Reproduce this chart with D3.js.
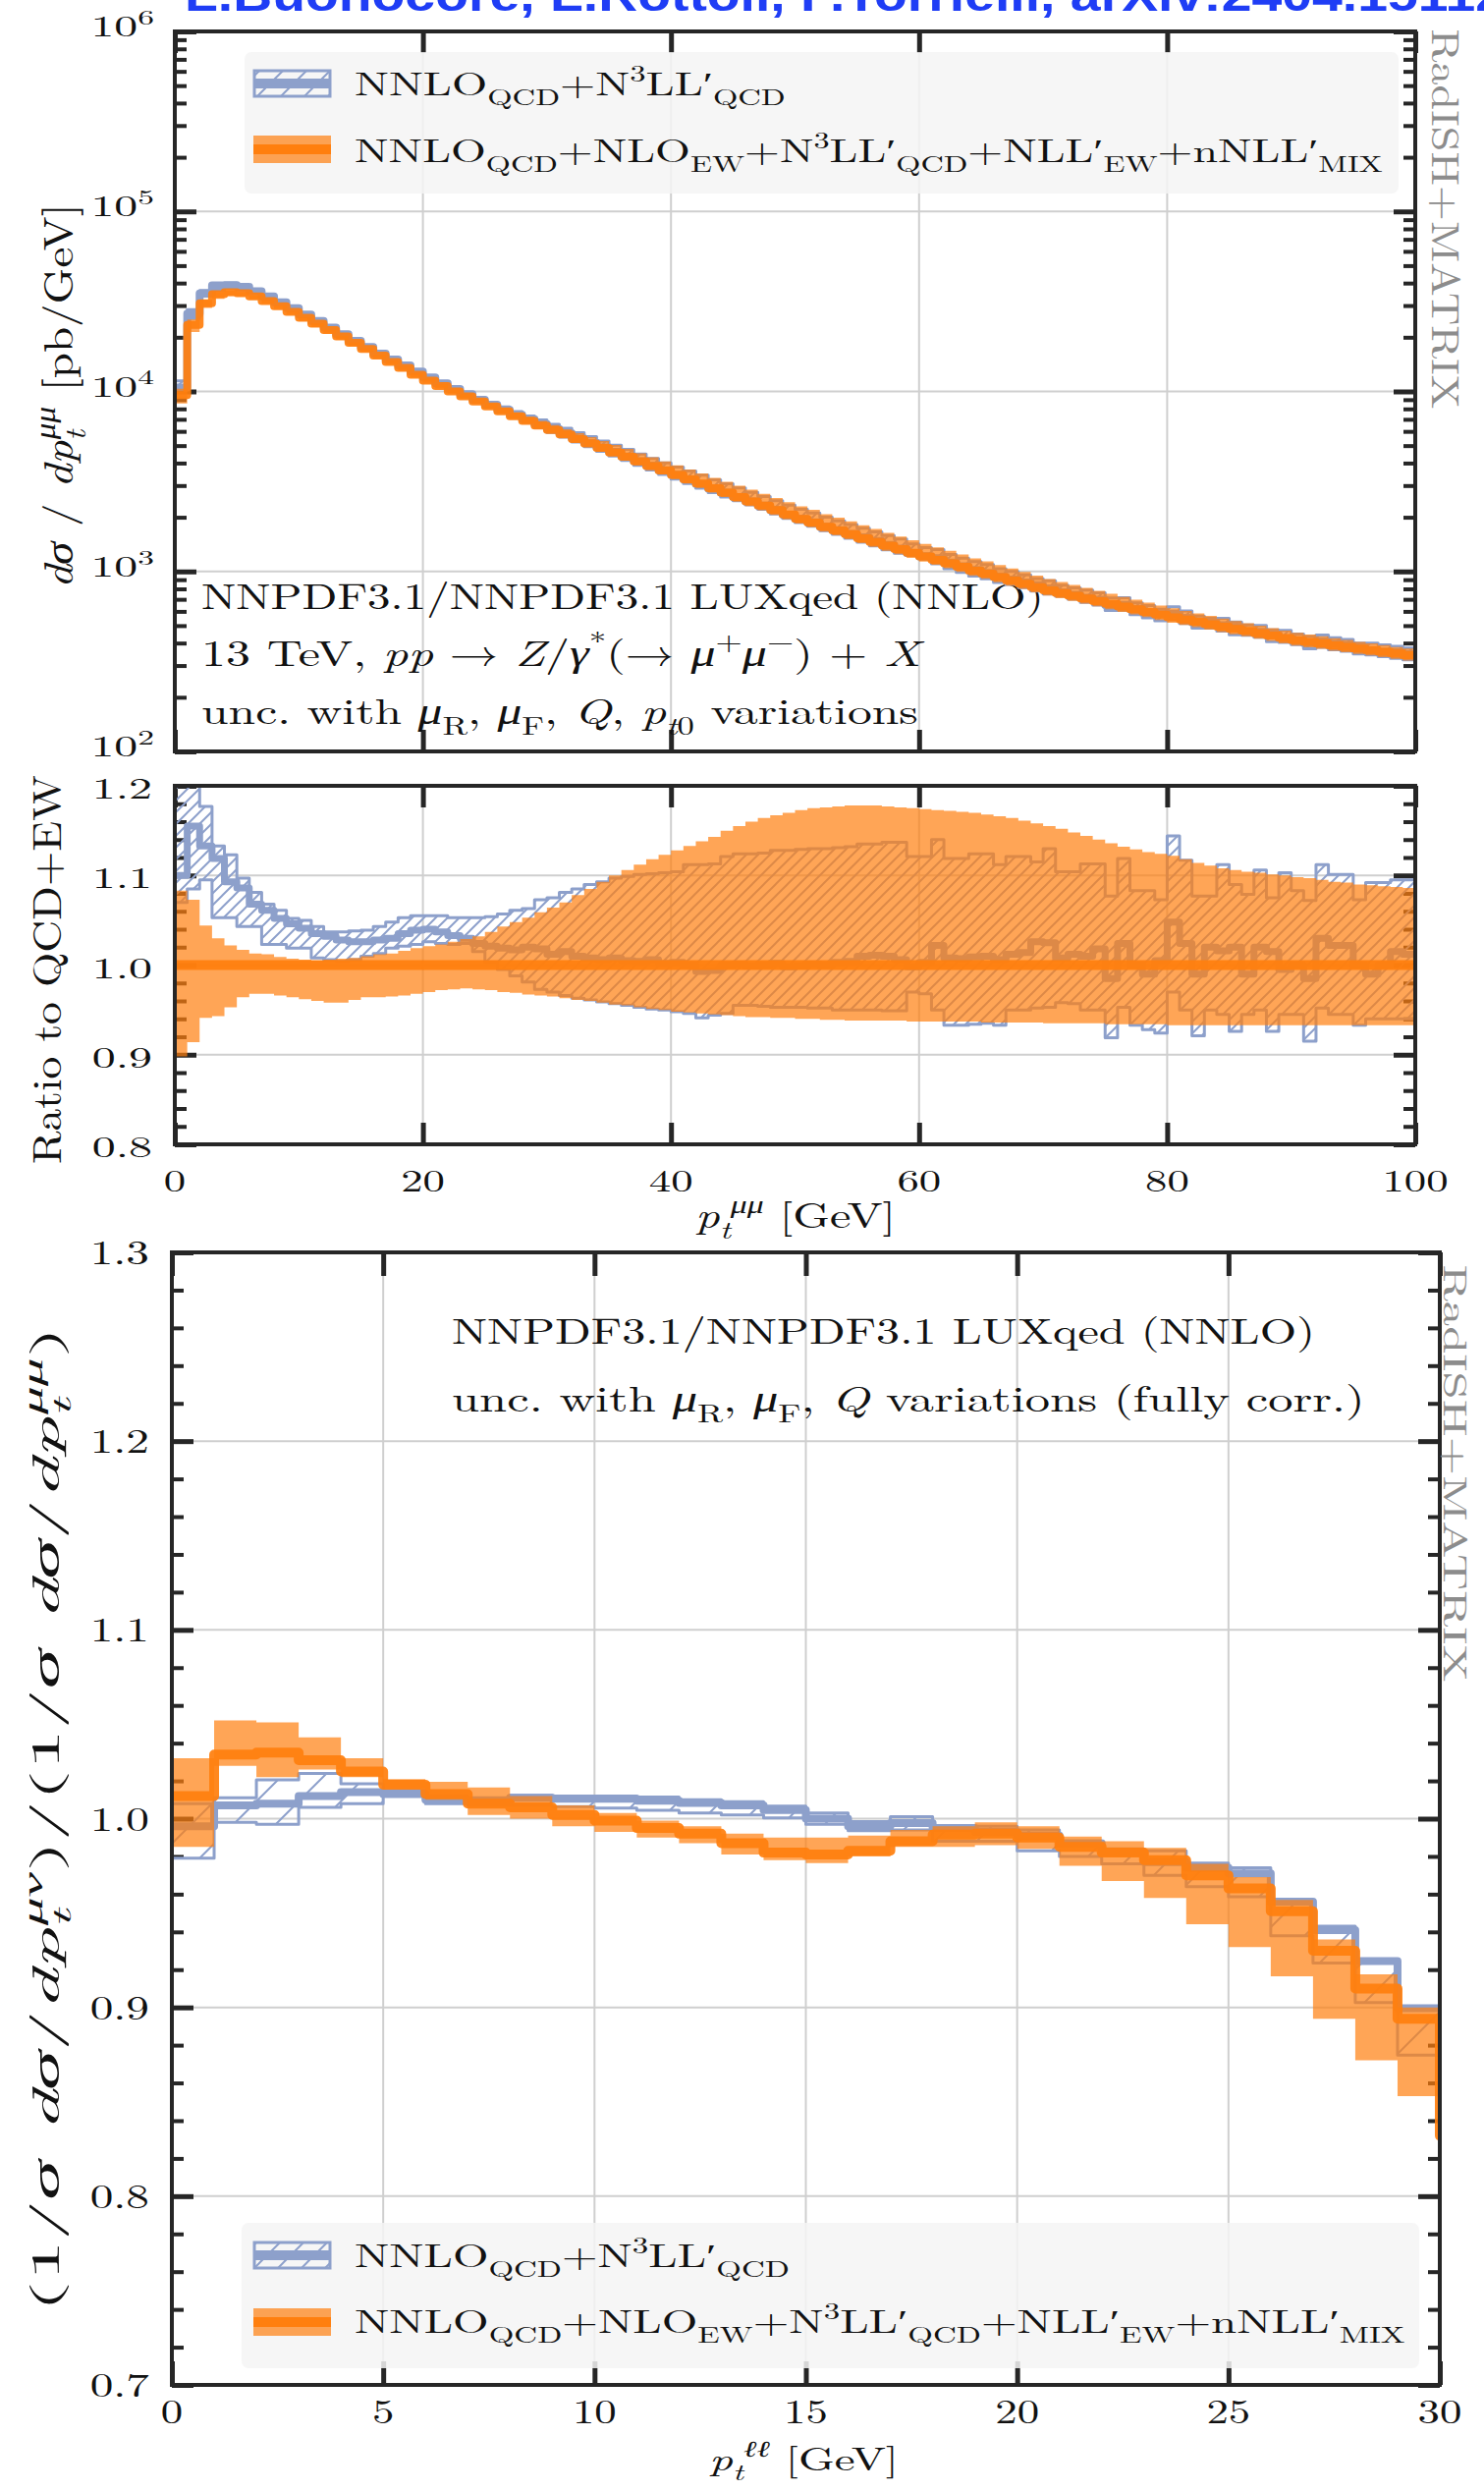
<!DOCTYPE html>
<html>
<head>
<meta charset="utf-8">
<script src="https://cdn.jsdelivr.net/npm/d3@7"></script>
<style>
  body { margin: 0; background: #fff; }
  svg { display: block; }
  text { font-family: "Latin Modern Roman", "CMU Serif", "Liberation Serif", serif; }
</style>
</head>
<body>
<svg id="chart" width="1511" height="2536"></svg>
<script>
// ---- data ----
// upper plot: d sigma / d pt(mumu), 1 GeV bins from 0 to 100, QCD+EW central [pb/GeV]
var dsigEW = [9550,23400,30900,34700,35600,35100,33700,31800,29700,27700,
  25700,23800,21900,20200,18600,17200,15800,14600,13500,12400,
  11500,10700,10000,9380,8790,8260,7760,7290,6870,6470,
  6110,5770,5440,5140,4850,4580,4330,4080,3850,3640,
  3440,3250,3080,2900,2740,2590,2450,2320,2190,2070,
  1960,1870,1770,1690,1610,1530,1460,1390,1330,1270,
  1210,1160,1110,1060,1010,973,931,891,855,818,
  785,759,733,708,684,661,638,617,596,575,
  556,540,525,509,494,480,467,453,440,427,
  415,406,398,389,381,373,366,358,350,343]
// QCD+EW band, relative to its central value
var ewUp = [1.083,1.073,1.044,1.030,1.022,1.017,1.013,1.012,1.009,1.007,
  1.006,1.005,1.006,1.007,1.008,1.010,1.012,1.013,1.016,1.019,
  1.021,1.023,1.026,1.029,1.032,1.037,1.043,1.048,1.053,1.059,
  1.064,1.070,1.078,1.085,1.093,1.100,1.106,1.112,1.118,1.123,
  1.128,1.133,1.138,1.143,1.150,1.155,1.160,1.164,1.167,1.170,
  1.173,1.175,1.176,1.177,1.178,1.178,1.178,1.177,1.176,1.175,
  1.174,1.173,1.172,1.171,1.170,1.168,1.166,1.164,1.161,1.158,
  1.155,1.152,1.148,1.144,1.140,1.136,1.132,1.129,1.126,1.124,
  1.122,1.118,1.114,1.111,1.108,1.106,1.104,1.103,1.101,1.100,
  1.098,1.097,1.095,1.093,1.092,1.090,1.089,1.088,1.087,1.086]
var ewDn = [0.898,0.914,0.941,0.943,0.953,0.964,0.968,0.968,0.966,0.964,
  0.962,0.960,0.958,0.958,0.961,0.964,0.964,0.965,0.966,0.968,
  0.970,0.972,0.973,0.974,0.973,0.972,0.970,0.969,0.967,0.966,
  0.965,0.963,0.961,0.960,0.958,0.956,0.955,0.953,0.951,0.950,
  0.948,0.947,0.946,0.945,0.944,0.943,0.942,0.942,0.941,0.941,
  0.940,0.940,0.939,0.939,0.938,0.938,0.938,0.938,0.938,0.937,
  0.937,0.937,0.937,0.937,0.937,0.936,0.936,0.936,0.936,0.936,
  0.935,0.935,0.935,0.935,0.935,0.934,0.934,0.934,0.934,0.934,
  0.933,0.933,0.933,0.933,0.933,0.933,0.933,0.933,0.933,0.933,
  0.933,0.933,0.933,0.933,0.933,0.933,0.933,0.933,0.933,0.933]
// QCD-only prediction, ratio to QCD+EW central
var qcdR = [1.100,1.155,1.133,1.119,1.093,1.086,1.068,1.061,1.052,1.046,
  1.041,1.035,1.032,1.028,1.026,1.026,1.028,1.030,1.035,1.039,
  1.040,1.037,1.033,1.030,1.024,1.021,1.019,1.017,1.020,1.018,
  1.012,1.015,1.010,1.008,1.006,1.008,1.005,1.004,1.006,1.002,
  1.003,1.000,0.993,0.994,1.000,1.001,0.999,1.000,1.002,0.998,
  0.999,1.001,1.000,1.003,1.004,1.010,1.011,1.010,1.006,0.998,
  1.003,1.022,1.008,1.007,1.009,1.010,1.006,1.012,1.014,1.026,
  1.025,1.008,1.012,1.010,1.018,0.985,1.024,1.000,0.990,1.005,
  1.048,1.024,0.990,1.020,1.016,1.020,0.990,1.020,1.015,0.995,
  1.000,0.985,1.030,1.022,1.022,1.000,0.990,1.000,1.015,1.012]
var qcdUp = [1.200,1.215,1.177,1.133,1.123,1.097,1.081,1.068,1.061,1.052,
  1.050,1.043,1.037,1.037,1.038,1.039,1.043,1.048,1.053,1.055,
  1.055,1.055,1.053,1.053,1.053,1.054,1.057,1.061,1.063,1.073,
  1.075,1.081,1.085,1.090,1.093,1.097,1.099,1.101,1.102,1.103,
  1.104,1.112,1.112,1.113,1.121,1.124,1.124,1.125,1.128,1.128,
  1.129,1.130,1.130,1.131,1.132,1.135,1.135,1.137,1.137,1.121,
  1.121,1.140,1.119,1.119,1.124,1.124,1.112,1.121,1.121,1.115,
  1.130,1.104,1.104,1.113,1.113,1.077,1.119,1.083,1.083,1.073,
  1.144,1.117,1.077,1.077,1.112,1.090,1.079,1.106,1.075,1.103,
  1.083,1.072,1.112,1.101,1.101,1.073,1.092,1.092,1.095,1.095]
var qcdDn = [1.070,1.085,1.095,1.053,1.053,1.043,1.043,1.023,1.023,1.019,
  1.019,1.008,1.006,1.004,1.006,1.010,1.013,1.019,1.021,1.023,
  1.026,1.024,1.023,1.024,1.015,1.003,0.995,0.988,0.981,0.973,
  0.970,0.966,0.963,0.961,0.959,0.957,0.955,0.953,0.951,0.950,
  0.948,0.946,0.941,0.944,0.946,0.955,0.955,0.954,0.953,0.953,
  0.953,0.952,0.952,0.950,0.950,0.950,0.950,0.949,0.949,0.970,
  0.968,0.950,0.933,0.933,0.934,0.935,0.933,0.950,0.950,0.952,
  0.953,0.958,0.957,0.950,0.950,0.919,0.953,0.933,0.928,0.924,
  0.970,0.950,0.921,0.950,0.945,0.926,0.945,0.950,0.926,0.945,
  0.945,0.915,0.952,0.945,0.945,0.933,0.940,0.940,0.940,0.940]

// lower plot: normalised ratio, 1 GeV bins from 0 to 30 (last orange bin lies past the frame)
var normEW = [1.012,1.034,1.035,1.031,1.025,1.018,1.013,1.008,1.006,1.002,
  0.999,0.995,0.992,0.987,0.982,0.981,0.983,0.988,0.9915,0.992,
  0.990,0.985,0.982,0.978,0.970,0.963,0.951,0.930,0.910,0.894,
  0.832]
var normEWUp = [1.032,1.052,1.051,1.043,1.032,1.021,1.0195,1.0165,1.012,1.007,
  1.003,0.999,0.996,0.992,0.990,0.990,0.991,0.994,0.996,0.998,
  0.996,0.9905,0.988,0.9845,0.976,0.969,0.957,0.936,0.9175,0.900]
var normEWDn = [0.985,1.028,1.022,1.026,1.022,1.016,1.010,1.002,1.000,0.996,
  0.993,0.990,0.987,0.981,0.978,0.9765,0.980,0.985,0.985,0.986,
  0.984,0.975,0.967,0.958,0.944,0.932,0.9165,0.894,0.872,0.853]
var normQCD = [0.996,1.007,1.008,1.012,1.014,1.013,1.010,1.0095,1.011,1.0105,
  1.0105,1.0095,1.0083,1.007,1.0046,1.000,0.996,0.9976,0.995,0.993,
  0.991,0.987,0.982,0.977,0.974,0.971,0.956,0.941,0.9245,0.8996]
var normQCDUp = [1.008,1.011,1.0205,1.024,1.0185,1.015,1.012,1.011,1.0123,1.012,
  1.012,1.0115,1.010,1.009,1.0066,1.003,0.9985,1.001,0.996,0.996,
  0.994,0.988,0.984,0.983,0.9765,0.974,0.957,0.943,0.9255,0.9006]
var normQCDDn = [0.979,0.998,0.997,1.006,1.008,1.012,1.008,1.007,1.007,1.0064,
  1.0056,1.0044,1.003,1.002,1.0004,0.997,0.9936,0.994,0.988,0.988,
  0.983,0.980,0.976,0.970,0.964,0.9586,0.938,0.9235,0.9026,0.8747]

// ticks
var topYTicks = [1e2, 1e3, 1e4, 1e5, 1e6]
var topYMinor = [2,3,4,5,6,7,8,9].flatMap(m => [1e2, 1e3, 1e4, 1e5].map(d => m * d))
var ptTicks = [0, 20, 40, 60, 80, 100]
var ratioTicks = [0.8, 0.9, 1.0, 1.1, 1.2]
var ratioMinor = [0.82,0.84,0.86,0.88,0.92,0.94,0.96,0.98,1.02,1.04,1.06,1.08,1.12,1.14,1.16,1.18]
var lowXTicks = [0, 5, 10, 15, 20, 25, 30]
var lowYTicks = [0.7, 0.8, 0.9, 1.0, 1.1, 1.2, 1.3]
var lowYMinor = [0.72,0.74,0.76,0.78,0.82,0.84,0.86,0.88,0.92,0.94,0.96,0.98,
  1.02,1.04,1.06,1.08,1.12,1.14,1.16,1.18,1.22,1.24,1.26,1.28]

// ---- drawing ----
var BLUE = "#8da0cb", ORANGE = "#ff7f0e", INK = "#262626", GRID = "#cfcfcf"
var svg = d3.select("#chart")
var defs = svg.append("defs")

var xA = d3.scaleLinear([0, 100], [178, 1441])
var yA = d3.scaleLog([1e2, 1e6], [765, 32])
var yR = d3.scaleLinear([0.8, 1.2], [1165, 800])
var xB = d3.scaleLinear([0, 30], [175, 1466])
var yB = d3.scaleLinear([0.7, 1.3], [2428, 1275])

function hatch(id, s, x0, y0) {
  defs.append("pattern").attr("id", id).attr("patternUnits", "userSpaceOnUse")
    .attr("width", s).attr("height", s).attr("x", x0).attr("y", y0)
    .append("path")
    .attr("d", `M${-s/2},${s/2}L${s/2},${-s/2}M0,${s}L${s},0M${s/2},${s*1.5}L${s*1.5},${s/2}`)
    .attr("stroke", BLUE).attr("stroke-width", 2).attr("fill", "none")
}
hatch("hFine", 12, 178, 0)
hatch("hWide", 43, 175, 1275)
hatch("hLeg", 24, 0, 0)

// text with sub/superscripts, squeezed or stretched to a target width
function mathText(parent, parts, o) {
  var fs = o.size
  var g = parent.append("g")
  var t = g.append("text").attr("font-size", fs).attr("text-anchor", o.anchor || "start")
    .attr("fill", o.fill || "#111")
  var off = 0
  for (const p of parts) {
    var str = p[0], st = p[1] || "", dx = p[2]
    var s = t.append("tspan").text(str)
    var target = 0
    if (st.includes("sub")) target = 0.3 * fs
    if (st.includes("sup")) target = -0.42 * fs
    if (st.includes("sub") || st.includes("sup")) s.attr("font-size", 0.7 * fs)
    if (st.startsWith("i")) s.attr("font-style", "italic")
    if (target !== off) { s.attr("dy", target - off); off = target }
    if (dx) s.attr("dx", dx * fs)
  }
  var sx = o.sx || 1
  if (o.width) {
    var w = t.node().getBBox().width
    if (w > 0) sx = o.width / w
  }
  g.attr("transform", `translate(${o.x},${o.y})` + (o.rotate ? ` rotate(${o.rotate})` : "") + ` scale(${sx},1)`)
  return g
}

function tk(g, axis, scale, vals, len, w, tr) {
  g.append("g").attr("transform", tr)
    .call(axis(scale).tickValues(vals).tickSize(-len).tickFormat(""))
    .call(a => a.select(".domain").remove())
    .call(a => a.selectAll("line").attr("stroke", INK).attr("stroke-width", w))
}

function panelBase(x, y, o) {
  var [xa, xb] = x.range(), [yb, ya] = y.range()
  var g = svg.append("g")
  g.append("g").selectAll("line").data(o.xGrid).join("line")
    .attr("x1", d => x(d)).attr("x2", d => x(d)).attr("y1", ya).attr("y2", yb)
    .attr("stroke", GRID).attr("stroke-width", 2)
  g.append("g").selectAll("line").data(o.yGrid).join("line")
    .attr("x1", xa).attr("x2", xb).attr("y1", d => y(d)).attr("y2", d => y(d))
    .attr("stroke", GRID).attr("stroke-width", 2)
  tk(g, d3.axisLeft, y, o.yMajor, 22, 5, `translate(${xa},0)`)
  tk(g, d3.axisRight, y, o.yMajor, 22, 5, `translate(${xb},0)`)
  tk(g, d3.axisLeft, y, o.yMinor, 12, 4, `translate(${xa},0)`)
  tk(g, d3.axisRight, y, o.yMinor, 12, 4, `translate(${xb},0)`)
  tk(g, d3.axisBottom, x, o.xMajor, o.xLen, 5, `translate(0,${yb})`)
  tk(g, d3.axisTop, x, o.xMajor, o.xLen, 5, `translate(0,${ya})`)
  defs.append("clipPath").attr("id", o.clip).append("rect")
    .attr("x", xa).attr("y", ya).attr("width", xb - xa).attr("height", yb - ya)
  return g
}

function border(x, y) {
  var [xa, xb] = x.range(), [yb, ya] = y.range()
  svg.append("rect").attr("x", xa).attr("y", ya).attr("width", xb - xa).attr("height", yb - ya)
    .attr("fill", "none").attr("stroke", INK).attr("stroke-width", 4)
}

function pts() {
  var arrs = Array.from(arguments), n = arrs[0].length
  var out = arrs[0].map((_, i) => [i].concat(arrs.map(a => a[i])))
  out.push([n].concat(arrs.map(a => a[n - 1])))
  return out
}
var stepLine = (x, y) => d3.line().x(d => x(d[0])).y(d => y(d[1])).curve(d3.curveStepAfter)
var stepArea = (x, y) => d3.area().x(d => x(d[0])).y0(d => y(d[1])).y1(d => y(d[2])).curve(d3.curveStepAfter)

function curves(x, y, clip, blue, orange, pat, lw) {
  var g = svg.append("g").attr("clip-path", `url(#${clip})`).attr("stroke-linejoin", "round")
  g.append("path").attr("d", stepArea(x, y)(pts(blue.dn, blue.up)))
    .attr("fill", `url(#${pat})`).attr("stroke", BLUE).attr("stroke-width", 3)
  g.append("path").attr("d", stepLine(x, y)(pts(blue.c)))
    .attr("fill", "none").attr("stroke", BLUE).attr("stroke-width", lw[0])
  g.append("path").attr("d", stepArea(x, y)(pts(orange.dn, orange.up)))
    .attr("fill", ORANGE).attr("fill-opacity", 0.7)
  g.append("path").attr("d", stepLine(x, y)(pts(orange.c)))
    .attr("fill", "none").attr("stroke", ORANGE).attr("stroke-width", lw[1]).attr("stroke-opacity", 0.93)
}

function legend(x0, y0, w, h, rows) {
  var g = svg.append("g")
  g.append("rect").attr("x", x0).attr("y", y0).attr("width", w).attr("height", h).attr("rx", 7)
    .attr("fill", "#f5f5f5").attr("fill-opacity", 0.85)
  rows.forEach(r => {
    if (r.kind === "blue") {
      g.append("rect").attr("x", 259).attr("y", r.cy - 13).attr("width", 77).attr("height", 26)
        .attr("fill", "url(#hLeg)").attr("stroke", BLUE).attr("stroke-width", 3)
      g.append("line").attr("x1", 259).attr("x2", 336).attr("y1", r.cy).attr("y2", r.cy)
        .attr("stroke", BLUE).attr("stroke-width", 10)
    } else {
      g.append("rect").attr("x", 258).attr("y", r.cy - 14).attr("width", 79).attr("height", 28)
        .attr("fill", ORANGE).attr("fill-opacity", 0.7)
      g.append("line").attr("x1", 258).attr("x2", 337).attr("y1", r.cy).attr("y2", r.cy)
        .attr("stroke", ORANGE).attr("stroke-width", 10)
    }
    mathText(g, r.parts, {x: 361, y: r.base, size: 33, width: r.width})
  })
}

var qcdLabel = [["NNLO"], ["QCD", "sub"], ["+N"], ["3", "sup"], ["LL′"], ["QCD", "sub"]]
var ewLabel = [["NNLO"], ["QCD", "sub"], ["+NLO"], ["EW", "sub"], ["+N"], ["3", "sup"], ["LL′"], ["QCD", "sub"],
  ["+NLL′"], ["EW", "sub"], ["+nNLL′"], ["MIX", "sub"]]

// title (cut at the top of the page)
svg.append("text").attr("x", 188).attr("y", 11).attr("font-size", 46).attr("font-weight", "bold")
  .style("font-family", "'Liberation Sans', Arial, sans-serif").attr("fill", "#1f3df5")
  .attr("textLength", 1345).attr("lengthAdjust", "spacingAndGlyphs")
  .text("L.Buonocore, L.Rottoli, P.Torrielli, arXiv:2404.15112")

// ---------- upper panel ----------
panelBase(xA, yA, {xGrid: [20, 40, 60, 80], yGrid: [1e3, 1e4, 1e5], yMajor: topYTicks,
  yMinor: topYMinor, xMajor: ptTicks, xLen: 22, clip: "cA"})
mathText(svg, [["NNPDF3.1/NNPDF3.1 LUXqed (NNLO)"]], {x: 205, y: 620, size: 37, width: 858})
mathText(svg, [["13 TeV, "], ["pp", "i"], [" → "], ["Z", "i"], ["/"], ["γ", "i"], ["*", "sup"], ["(→ "],
  ["μ", "i"], ["+", "sup"], ["μ", "i"], ["−", "sup"], [") + "], ["X", "i"]], {x: 205, y: 678, size: 37, width: 737})
mathText(svg, [["unc. with "], ["μ", "i"], ["R", "sub"], [", "], ["μ", "i"], ["F", "sub"], [", "], ["Q", "i"], [", "],
  ["p", "i"], ["t", "isub"], ["0", "sub"], [" variations"]], {x: 205, y: 737, size: 37, width: 730})

curves(xA, yA, "cA",
  {c: dsigEW.map((v, i) => v * qcdR[i]), up: dsigEW.map((v, i) => v * qcdUp[i]), dn: dsigEW.map((v, i) => v * qcdDn[i])},
  {c: dsigEW, up: dsigEW.map((v, i) => v * ewUp[i]), dn: dsigEW.map((v, i) => v * ewDn[i])},
  "hFine", [8, 8])
border(xA, yA)

topYTicks.forEach(v => mathText(svg, [["10"], [String(Math.round(Math.log10(v))), "sup"]],
  {x: 157, y: yA(v) + 5, size: 29, anchor: "end", sx: 1.65}))
mathText(svg, [["d", "i"], ["σ", "i"], [" / "], ["dp", "i"], ["t", "isub"], ["μμ", "isup", -0.2], [" [pb/GeV]"]],
  {x: 74, y: 403, size: 42, anchor: "middle", rotate: -90, width: 392})
mathText(svg, [["RadISH+MATRIX"]], {x: 1458, y: 223, size: 40, anchor: "middle", rotate: 90, width: 387, fill: "#8c8c8c"})

legend(249, 53, 1175, 144, [
  {kind: "blue", cy: 85, base: 97, parts: qcdLabel, width: 439},
  {kind: "orange", cy: 152, base: 165, parts: ewLabel, width: 1047}])

// ---------- ratio panel ----------
panelBase(xA, yR, {xGrid: [20, 40, 60, 80], yGrid: [0.9, 1.0, 1.1], yMajor: ratioTicks,
  yMinor: ratioMinor, xMajor: ptTicks, xLen: 22, clip: "cR"})
curves(xA, yR, "cR",
  {c: qcdR, up: qcdUp, dn: qcdDn},
  {c: dsigEW.map((v, i) => v / dsigEW[i]), up: ewUp, dn: ewDn},
  "hFine", [7, 10])
border(xA, yR)
ratioTicks.forEach(v => mathText(svg, [[v.toFixed(1)]], {x: 155, y: yR(v) + 13, size: 30, anchor: "end", sx: 1.6}))
ptTicks.forEach(v => mathText(svg, [[String(v)]], {x: xA(v), y: 1213, size: 32, anchor: "middle", sx: 1.4}))
mathText(svg, [["Ratio to QCD+EW"]], {x: 62, y: 987, size: 41, anchor: "middle", rotate: -90, width: 396})
mathText(svg, [["p", "i"], ["t", "isub"], ["μμ", "isup"], ["  [GeV]"]], {x: 708, y: 1250, size: 36, width: 204})

// ---------- lower panel ----------
panelBase(xB, yB, {xGrid: [5, 10, 15, 20, 25], yGrid: [0.8, 0.9, 1.0, 1.1, 1.2], yMajor: lowYTicks,
  yMinor: lowYMinor, xMajor: lowXTicks, xLen: 24, clip: "cB"})
mathText(svg, [["NNPDF3.1/NNPDF3.1 LUXqed (NNLO)"]], {x: 460, y: 1368, size: 37, width: 879})
mathText(svg, [["unc. with "], ["μ", "i"], ["R", "sub"], [", "], ["μ", "i"], ["F", "sub"], [", "], ["Q", "i"],
  [" variations (fully corr.)"]], {x: 460, y: 1437, size: 37, width: 930})
curves(xB, yB, "cB",
  {c: normQCD, up: normQCDUp, dn: normQCDDn},
  {c: normEW, up: normEWUp, dn: normEWDn},
  "hWide", [8, 10])
border(xB, yB)
lowYTicks.forEach(v => mathText(svg, [[v.toFixed(1)]], {x: 152, y: yB(v) + 12, size: 35, anchor: "end", sx: 1.35}))
lowXTicks.forEach(v => mathText(svg, [[String(v)]], {x: xB(v), y: 2467, size: 34, anchor: "middle", sx: 1.32}))
mathText(svg, [["(1/"], ["σ dσ", "i"], ["/"], ["dp", "i"], ["t", "isub"], ["μν", "isup", -0.2], [")/(1/"],
  ["σ dσ", "i"], ["/"], ["dp", "i"], ["t", "isub"], ["μμ", "isup", -0.2], [")"]],
  {x: 60, y: 1852, size: 40, anchor: "middle", rotate: -90, width: 1003})
mathText(svg, [["p", "i"], ["t", "isub"], ["ℓℓ", "isup"], ["  [GeV]"]], {x: 722, y: 2515, size: 33, width: 193})
mathText(svg, [["RadISH+MATRIX"]], {x: 1470, y: 1500, size: 34, anchor: "middle", rotate: 90, width: 425, fill: "#8c8c8c"})

legend(246, 2263, 1199, 148, [
  {kind: "blue", cy: 2296, base: 2308, parts: qcdLabel, width: 443},
  {kind: "orange", cy: 2364, base: 2375, parts: ewLabel, width: 1070}])
</script>
</body>
</html>
